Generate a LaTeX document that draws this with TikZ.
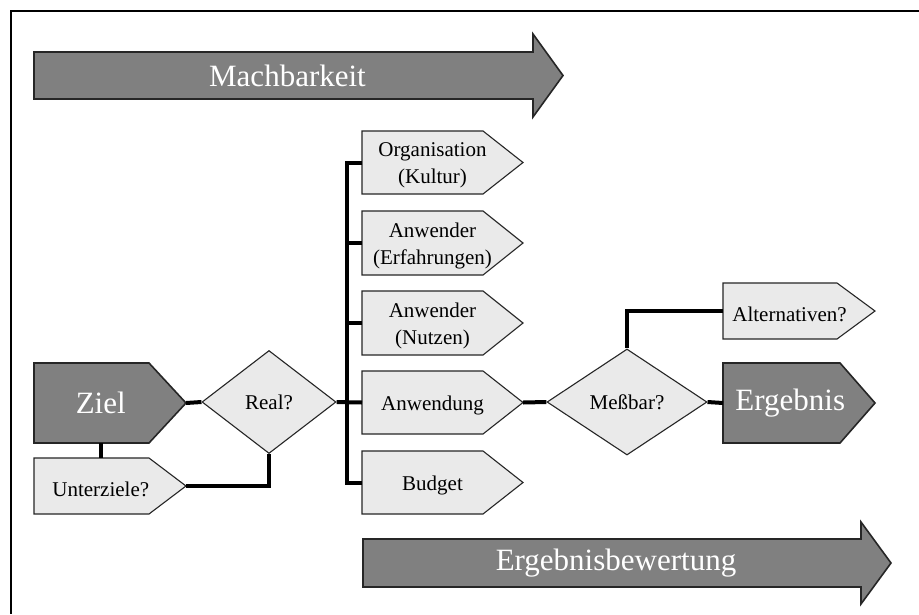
\documentclass[tikz,border=0pt]{standalone}
\usepackage{fontspec}
\setmainfont{Liberation Serif}
\usetikzlibrary{shapes.geometric,calc}
\definecolor{darkfill}{HTML}{808080}
\definecolor{lightfill}{HTML}{EAEAEA}
\definecolor{edge}{HTML}{262626}
\tikzset{
  bigshape/.style={fill=darkfill,draw=edge,line width=1.6pt,line join=miter},
  smallshape/.style={fill=lightfill,draw=edge,line width=1.1pt,line join=miter},
  bigtext/.style={text=white,font=\fontsize{31}{36}\selectfont,inner sep=0pt},
  smalltext/.style={text=black,font=\fontsize{21}{27}\selectfont,align=center,inner sep=0pt,yshift=-3pt},
  conn/.style={draw=black,line width=4pt,line cap=butt,line join=miter},
  decision/.style={diamond,fill=lightfill,draw=edge,line width=1.1pt,inner sep=0pt,
    font=\fontsize{21}{27}\selectfont},
  frameline/.style={draw=black,line width=1.4pt}
}
% #1 name, #2 shape style, #3 text style, #4 left, #5 top, #6 body right, #7 bottom, #8 tip x, #9 text
\newcommand{\pbox}[9]{%
  \draw[#2] (#4,#5) -- (#6,#5) -- (#8,{(#5+#7)/2}) -- (#6,#7) -- (#4,#7) -- cycle;
  \node[#3] (#1) at ({#4+(#6-#4+(#8-#6)/2)/2},{(#5+#7)/2}) {#9};
  \coordinate (#1-w) at (#4,{(#5+#7)/2});
  \coordinate (#1-tip) at (#8,{(#5+#7)/2});
  \coordinate (#1-n) at ({#4+(#6-#4+(#8-#6)/2)/2},#5);
  \coordinate (#1-s) at ({#4+(#6-#4+(#8-#6)/2)/2},#7);
}
% big arrow: #1 name, #2 left, #3 body top, #4 body bottom, #5 body right, #6 head top, #7 head bottom, #8 tip, #9 text
\newcommand{\bigarrow}[9]{%
  \draw[bigshape] (#2,#3) -- (#5,#3) -- (#5,#6) -- (#8,{(#6+#7)/2}) -- (#5,#7) -- (#5,#4) -- (#2,#4) -- cycle;
  \node[bigtext] (#1) at ({(#2+#5)/2+4},{(#3+#4)/2}) {#9};
}
\begin{document}
\begin{tikzpicture}[x=1pt,y=-1pt]
\useasboundingbox (0,0) rectangle (919,614);
\fill[white] (0,0) rectangle (919,614);
% frame (only top and left edges visible)
\coordinate (fr-tr) at (919,11);
\coordinate (fr-tl) at (11,11);
\coordinate (fr-bl) at (11,614);
\draw[frameline] (fr-tr) -- (fr-tl) -- (fr-bl);

% big arrows
\bigarrow{mach}{34}{52}{99}{533}{34}{117}{563}{Machbarkeit}
\bigarrow{bew}{363}{539}{587}{861}{522}{604}{891}{Ergebnisbewertung}

% left part
\pbox{ziel}{bigshape}{bigtext}{34}{363}{149}{443}{186}{Ziel}
\pbox{unt}{smallshape}{smalltext}{34}{458}{149}{514}{186}{Unterziele?}
\node[decision,minimum width=134pt,minimum height=103pt] (real) at (269,402) {Real?};

% column of factors
\pbox{org}{smallshape}{smalltext}{362}{131}{483}{194}{523}{Organisation\\(Kultur)}
\pbox{erf}{smallshape}{smalltext}{362}{211}{483}{275}{523}{Anwender\\(Erfahrungen)}
\pbox{nutz}{smallshape}{smalltext}{362}{291}{483}{355}{523}{Anwender\\(Nutzen)}
\pbox{anw}{smallshape}{smalltext}{362}{371}{483}{434}{523}{Anwendung}
\pbox{bud}{smallshape}{smalltext}{362}{451}{483}{514}{523}{Budget}

% right part
\node[decision,minimum width=160pt,minimum height=106pt] (mess) at (627,402) {Meßbar?};
\pbox{alt}{smallshape}{smalltext}{723}{283}{837}{339}{875}{Alternativen?}
\pbox{erg}{bigshape}{bigtext}{723}{363}{840}{443}{875}{Ergebnis}

% connectors
\coordinate (bus) at (347,402);
\draw[conn] (ziel-tip) -- (real.west);
\draw[conn] (ziel-s) -- (unt-n);
\draw[conn] (unt-tip) -| (real.south);
\draw[conn] (real.east) -- (anw-w);
\draw[conn] (org-w) -- (org-w -| bus) -- (bud-w -| bus) -- (bud-w);
\draw[conn] (erf-w -| bus) -- (erf-w);
\draw[conn] (nutz-w -| bus) -- (nutz-w);
\draw[conn] (anw-tip) -- (mess.west);
\draw[conn] (mess.east) -- (erg-w);
\draw[conn] (mess.north) |- (alt-w);
\end{tikzpicture}
\end{document}
